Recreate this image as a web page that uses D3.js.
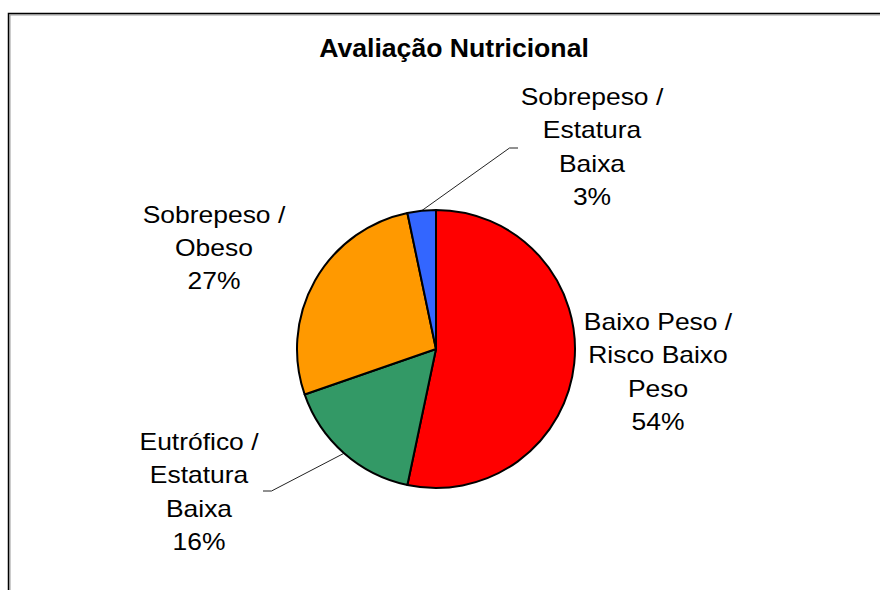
<!DOCTYPE html>
<html>
<head>
<meta charset="utf-8">
<script src="https://cdn.jsdelivr.net/npm/d3@7"></script>
<style>
  html, body { margin: 0; padding: 0; background: #fff; }
  svg { display: block; }
</style>
</head>
<body>
<svg id="chart" width="880" height="590"></svg>
<script>
// ---- data ----
const title = "Avaliação Nutricional";
const categories = [
  ["Baixo Peso /", "Risco Baixo", "Peso"],
  ["Eutrófico /", "Estatura", "Baixa"],
  ["Sobrepeso /", "Obeso"],
  ["Sobrepeso /", "Estatura", "Baixa"]
];
const values = [53.3, 16.4, 27.0, 3.3];
const percentLabels = ["54%", "16%", "27%", "3%"];
const colors = ["#FF0000", "#339966", "#FF9900", "#3366FF"];

// ---- layout ----
const cx = 436, cy = 349, R = 139;
// label centre offsets relative to pie centre (manually placed labels)
const labelPos = [[222, 23], [-237, 143], [-222, -101], [156, -202]];
// leader line end offsets relative to label centre (null = no leader)
const leaderEnd = [null, [64, -1], null, [-74, 1]];
const lineH = 33.3;
const fontSize = 23;
const stretch = 1.15;
const font = "Liberation Sans, Arial, Helvetica, sans-serif";

const svg = d3.select("#chart");

// frame with shadow
svg.append("rect").attr("x", 10).attr("y", 15).attr("width", 1000).attr("height", 1000)
  .attr("fill", "none").attr("stroke", "#999").attr("stroke-width", 1);
svg.append("rect").attr("x", 8.5).attr("y", 13.5).attr("width", 1000).attr("height", 1000)
  .attr("fill", "none").attr("stroke", "#000").attr("stroke-width", 1.5);

svg.append("text")
  .attr("transform", "translate(454,57) scale(1.065,1)")
  .attr("text-anchor", "middle")
  .attr("font-family", font)
  .attr("font-weight", "bold")
  .attr("font-size", 25)
  .text(title);

const pie = d3.pie().sort(null).value(d => d);
const arcs = pie(values);
const arc = d3.arc().innerRadius(0).outerRadius(R);

const g = svg.append("g").attr("transform", `translate(${cx},${cy})`);

// leader lines
arcs.forEach((d, i) => {
  if (!leaderEnd[i]) return;
  const mid = (d.startAngle + d.endAngle) / 2;
  const sx = R * Math.sin(mid), sy = -R * Math.cos(mid);
  const ex = labelPos[i][0] + leaderEnd[i][0];
  const ey = labelPos[i][1] + leaderEnd[i][1];
  const kx = ex > sx ? ex - 8.5 : ex + 8.5;
  g.append("path")
    .attr("d", `M${sx},${sy}L${kx},${ey}L${ex},${ey}`)
    .attr("fill", "none").attr("stroke", "#222").attr("stroke-width", 1);
});

g.selectAll("path.slice").data(arcs).join("path")
  .attr("class", "slice")
  .attr("d", arc)
  .attr("fill", (d, i) => colors[i])
  .attr("stroke", "#000")
  .attr("stroke-width", 2)
  .attr("stroke-linejoin", "round");

// labels
arcs.forEach((d, i) => {
  const lines = categories[i].concat([percentLabels[i]]);
  const [lx, ly] = labelPos[i];
  const n = lines.length;
  lines.forEach((s, k) => {
    const y = ly + (k - (n - 1) / 2) * lineH + 8;
    g.append("text")
      .attr("transform", `translate(${lx},${y}) scale(${stretch},1)`)
      .attr("text-anchor", "middle")
      .attr("font-family", font)
      .attr("font-size", fontSize)
      .attr("fill", "#000")
      .text(s);
  });
});
</script>
</body>
</html>
